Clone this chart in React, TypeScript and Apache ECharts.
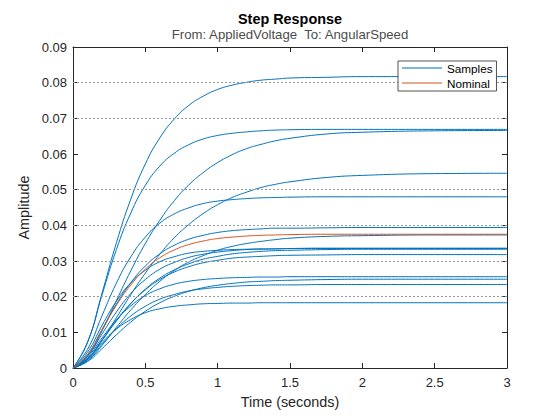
import React, { useEffect, useRef } from "react";
import * as echarts from "echarts";

// Time samples (seconds)
const TIME = [0, 0.1, 0.2, 0.3, 0.4, 0.5, 0.6, 0.7, 0.8, 0.9, 1.0, 1.1, 1.2, 1.3, 1.4, 1.5, 1.75, 2.0, 2.5, 3.0];

const SAMPLE_A = [0, 0.0071, 0.0209, 0.0351, 0.0474, 0.0572, 0.0645, 0.0698, 0.0736, 0.0762, 0.0781, 0.0793, 0.0801, 0.0807, 0.081, 0.0813, 0.0815, 0.0817, 0.0817, 0.0817];
const SAMPLE_B = [0, 0.0072, 0.0204, 0.0332, 0.0435, 0.0512, 0.0566, 0.0602, 0.0626, 0.0642, 0.0652, 0.0658, 0.0662, 0.0665, 0.0667, 0.0668, 0.0669, 0.0669, 0.0669, 0.0669];
const SAMPLE_C = [0, 0.0033, 0.0104, 0.0189, 0.0273, 0.0349, 0.0414, 0.0469, 0.0513, 0.0548, 0.0576, 0.0598, 0.0615, 0.0627, 0.0637, 0.0644, 0.0656, 0.0661, 0.0665, 0.0666];
const SAMPLE_D = [0, 0.0024, 0.0077, 0.0141, 0.0206, 0.0266, 0.0319, 0.0365, 0.0402, 0.0433, 0.0458, 0.0478, 0.0493, 0.0506, 0.0515, 0.0522, 0.0534, 0.054, 0.0545, 0.0546];
const SAMPLE_E = [0, 0.0052, 0.0146, 0.0238, 0.0312, 0.0367, 0.0406, 0.0432, 0.0449, 0.0461, 0.0468, 0.0472, 0.0475, 0.0477, 0.0478, 0.0479, 0.048, 0.048, 0.048, 0.048];
const SAMPLE_F = [0, 0.0037, 0.0108, 0.0179, 0.0239, 0.0286, 0.032, 0.0344, 0.0361, 0.0372, 0.038, 0.0385, 0.0388, 0.039, 0.0392, 0.0392, 0.0393, 0.0394, 0.0394, 0.0394];
const SAMPLE_G = [0, 0.002, 0.0063, 0.0114, 0.0163, 0.0206, 0.0243, 0.0273, 0.0297, 0.0315, 0.033, 0.0341, 0.0349, 0.0355, 0.036, 0.0364, 0.0369, 0.0371, 0.0373, 0.0373];
const SAMPLE_H = [0, 0.0044, 0.0119, 0.0187, 0.0239, 0.0274, 0.0298, 0.0312, 0.0322, 0.0327, 0.033, 0.0332, 0.0333, 0.0334, 0.0334, 0.0335, 0.0335, 0.0335, 0.0335, 0.0335];
const SAMPLE_I = [0, 0.0026, 0.0077, 0.0132, 0.0181, 0.0221, 0.0252, 0.0275, 0.0292, 0.0305, 0.0313, 0.032, 0.0324, 0.0327, 0.0329, 0.033, 0.0332, 0.0333, 0.0333, 0.0333];
const SAMPLE_J = [0, 0.0033, 0.0095, 0.0157, 0.0209, 0.0248, 0.0277, 0.0296, 0.031, 0.0319, 0.0325, 0.0329, 0.0332, 0.0333, 0.0334, 0.0335, 0.0336, 0.0336, 0.0336, 0.0336];
const SAMPLE_K = [0, 0.0026, 0.0078, 0.0133, 0.0181, 0.0219, 0.0248, 0.0269, 0.0284, 0.0295, 0.0302, 0.0308, 0.0311, 0.0313, 0.0315, 0.0316, 0.0317, 0.0318, 0.0318, 0.0318];
const SAMPLE_L = [0, 0.003, 0.0084, 0.0135, 0.0174, 0.0203, 0.0222, 0.0235, 0.0243, 0.0248, 0.0251, 0.0253, 0.0254, 0.0255, 0.0255, 0.0256, 0.0256, 0.0256, 0.0256, 0.0256];
const SAMPLE_M = [0, 0.0018, 0.0054, 0.0093, 0.0129, 0.0159, 0.0183, 0.0201, 0.0215, 0.0225, 0.0232, 0.0237, 0.0241, 0.0243, 0.0245, 0.0246, 0.0248, 0.0249, 0.0249, 0.0249];
const SAMPLE_N = [0, 0.0023, 0.0066, 0.011, 0.0146, 0.0173, 0.0193, 0.0206, 0.0216, 0.0222, 0.0226, 0.0229, 0.0231, 0.0232, 0.0233, 0.0233, 0.0234, 0.0234, 0.0234, 0.0234];
const SAMPLE_O = [0, 0.0026, 0.0071, 0.0109, 0.0136, 0.0155, 0.0166, 0.0173, 0.0177, 0.018, 0.0181, 0.0182, 0.0182, 0.0183, 0.0183, 0.0183, 0.0183, 0.0183, 0.0183, 0.0183];

const NOMINAL = [0, 0.0037, 0.0106, 0.0176, 0.0233, 0.0277, 0.0309, 0.0331, 0.0346, 0.0356, 0.0363, 0.0367, 0.037, 0.0372, 0.0373, 0.0374, 0.0375, 0.0375, 0.0375, 0.0375];

// Steady-state values (dotted lines)
const STEADY_STATE = [0.0817, 0.0669, 0.0666, 0.0546, 0.048, 0.0394, 0.0375, 0.0373, 0.0336, 0.0335, 0.0333, 0.0318, 0.0256, 0.0249, 0.0234, 0.0183];

const SAMPLES = [
  SAMPLE_A, SAMPLE_B, SAMPLE_C, SAMPLE_D, SAMPLE_E, SAMPLE_F, SAMPLE_G, SAMPLE_H,
  SAMPLE_I, SAMPLE_J, SAMPLE_K, SAMPLE_L, SAMPLE_M, SAMPLE_N, SAMPLE_O,
];

const X_TICKS_MIN = 0;
const X_TICKS_MAX = 3;
const X_TICK_STEP = 0.5;
const Y_TICKS_MIN = 0;
const Y_TICKS_MAX = 0.09;
const Y_TICK_STEP = 0.01;

const FONT = "'Liberation Sans', Arial, Helvetica, sans-serif";
const AXIS_COLOR = "#262626";
const BLUE = "#0072BD";
const ORANGE = "#D95319";

export default function App() {
  const ref = useRef<HTMLDivElement>(null);

  useEffect(() => {
    if (!ref.current) return;
    const chart = echarts.init(ref.current, undefined, { renderer: "svg" });

    const toPairs = (vals: number[]) => TIME.map((t, i) => [t, vals[i]]);

    const axisCommon = {
      axisLine: { show: true, onZero: false, lineStyle: { color: AXIS_COLOR, width: 1 } },
      axisTick: { show: true, inside: true, length: 5, lineStyle: { color: AXIS_COLOR, width: 1 } },
      splitLine: { show: false },
    };

    const sampleSeries = SAMPLES.map((vals) => ({
      type: "line",
      name: "Samples",
      data: toPairs(vals),
      showSymbol: false,
      symbol: "none",
      smooth: 0.5,
      lineStyle: { color: BLUE, width: 1 },
      itemStyle: { color: BLUE },
      z: 3,
      silent: true,
    }));

    const option: any = {
      animation: false,
      backgroundColor: "#ffffff",
      textStyle: { fontFamily: FONT },
      grid: { left: 73, right: 53, top: 47, bottom: 52, containLabel: false },
      graphic: [
        {
          type: "text",
          x: 290,
          y: 19,
          style: {
            text: "Step Response",
            fontFamily: FONT,
            fontSize: 14.4,
            fontWeight: "bold",
            fill: "#000000",
            textAlign: "center",
            textVerticalAlign: "middle",
          },
        },
        {
          type: "text",
          x: 290,
          y: 34,
          style: {
            text: "From: AppliedVoltage  To: AngularSpeed",
            fontFamily: FONT,
            fontSize: 13.2,
            fill: "#4d4d4d",
            textAlign: "center",
            textVerticalAlign: "middle",
          },
        },
      ],
      legend: {
        data: [
          { name: "Samples", icon: "rect" },
          { name: "Nominal", icon: "rect" },
        ],
        orient: "vertical",
        left: 398,
        top: 61,
        z: 20,
        itemWidth: 40,
        itemHeight: 1.2,
        itemGap: 1,
        padding: [0, 4, 1, 4],
        borderColor: AXIS_COLOR,
        borderWidth: 0.8,
        backgroundColor: "#ffffff",
        selectedMode: false,
        textStyle: { fontFamily: FONT, fontSize: 11.7, color: "#000000", lineHeight: 14 },
      },
      xAxis: [
        {
          type: "value",
          position: "bottom",
          min: X_TICKS_MIN,
          max: X_TICKS_MAX,
          interval: X_TICK_STEP,
          ...axisCommon,
          axisLabel: {
            color: AXIS_COLOR,
            fontFamily: FONT,
            fontSize: 13,
            margin: 8,
            formatter: (v: number) => String(Number(v.toFixed(2))),
          },
          name: "Time (seconds)",
          nameLocation: "middle",
          nameGap: 27,
          nameTextStyle: { color: AXIS_COLOR, fontFamily: FONT, fontSize: 14.4 },
        },
        {
          type: "value",
          position: "top",
          min: X_TICKS_MIN,
          max: X_TICKS_MAX,
          interval: X_TICK_STEP,
          ...axisCommon,
          axisLabel: { show: false },
        },
      ],
      yAxis: [
        {
          type: "value",
          position: "left",
          min: Y_TICKS_MIN,
          max: Y_TICKS_MAX,
          interval: Y_TICK_STEP,
          ...axisCommon,
          axisLabel: {
            color: AXIS_COLOR,
            fontFamily: FONT,
            fontSize: 13,
            margin: 6,
            formatter: (v: number) => (v === 0 ? "0" : v.toFixed(2)),
          },
          name: "Amplitude",
          nameLocation: "middle",
          nameGap: 30,
          nameTextStyle: { color: AXIS_COLOR, fontFamily: FONT, fontSize: 14.4 },
        },
        {
          type: "value",
          position: "right",
          min: Y_TICKS_MIN,
          max: Y_TICKS_MAX,
          interval: Y_TICK_STEP,
          ...axisCommon,
          axisLabel: { show: false },
        },
      ],
      series: [
        {
          type: "line",
          name: "steady",
          data: [],
          silent: true,
          z: 1,
          markLine: {
            silent: true,
            symbol: ["none", "none"],
            label: { show: false },
            lineStyle: { color: "#9a9a9a", width: 1, type: [2, 2] },
            data: STEADY_STATE.map((v) => ({ yAxis: v })),
          },
        },
        ...sampleSeries,
        {
          type: "line",
          name: "Nominal",
          data: toPairs(NOMINAL),
          showSymbol: false,
          symbol: "none",
          smooth: 0.5,
          lineStyle: { color: ORANGE, width: 1 },
          itemStyle: { color: ORANGE },
          z: 4,
          silent: true,
        },
      ],
    };

    chart.setOption(option);
    return () => chart.dispose();
  }, []);

  return (
    <div
      ref={ref}
      style={{ position: "absolute", left: 0, top: 0, width: 560, height: 420 }}
    />
  );
}
